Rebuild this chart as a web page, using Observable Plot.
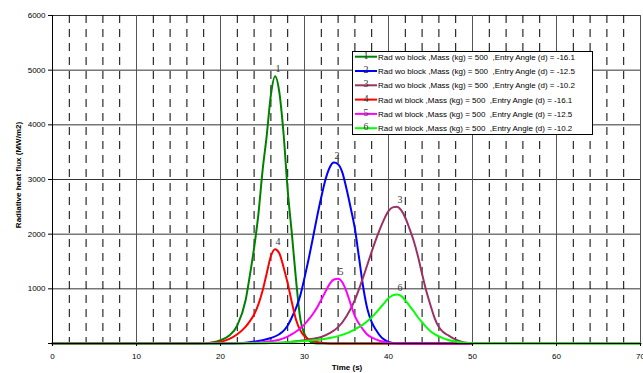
<!DOCTYPE html>
<html><head><meta charset="utf-8">
<script src="https://cdn.jsdelivr.net/npm/d3@7"></script>
<script src="https://cdn.jsdelivr.net/npm/@observablehq/plot@0.6"></script>
<style>body{margin:0;background:#fff}svg{display:block}</style>
</head><body><div id="chart"></div>
<script>
const seriesIds = ["1","2","3","4","5","6"];
const seriesNames = [
  "Rad wo block ,Mass (kg) = 500  ,Entry Angle (d) = -16.1",
  "Rad wo block ,Mass (kg) = 500  ,Entry Angle (d) = -12.5",
  "Rad wo block ,Mass (kg) = 500  ,Entry Angle (d) = -10.2",
  "Rad wi block ,Mass (kg) = 500  ,Entry Angle (d) = -16.1",
  "Rad wi block ,Mass (kg) = 500  ,Entry Angle (d) = -12.5",
  "Rad wi block ,Mass (kg) = 500  ,Entry Angle (d) = -10.2"
];
const seriesColors = ["#008000","#0000FF","#993366","#FF0000","#FF00FF","#00FF00"];

const t1 = [0,17,18,19,20,21,22,23,23.5,24,24.5,25,25.5,26,26.5,27,27.5,28,28.5,29,29.5,30,30.5,31,32,50];
const v1 = [0,0,5,20,60,140,330,800,1250,1750,2350,3150,3800,4550,4890,4600,3850,2800,2000,1150,450,170,60,10,0,0];

const t2 = [0,21,22,23,24,25,26,27,27.5,28,28.5,29,29.5,30,30.5,31,31.5,32,32.5,33,33.5,34,34.5,35,35.5,36,36.5,37,37.5,38,38.5,39,39.5,40,41,50];
const v2 = [0,0,5,15,35,60,100,170,230,330,480,650,880,1200,1550,1930,2320,2680,3000,3220,3310,3280,3130,2830,2480,2100,1560,1020,620,390,250,140,70,30,5,0];

const t3 = [0,24,26,28,29,30,31,32,33,34,35,36,36.5,37,37.5,38,38.5,39,39.5,40,40.5,41,41.5,42,42.5,43,43.5,44,44.5,45,45.5,46,46.5,47,48,49,50,70];
const v3 = [0,3,10,25,40,60,85,120,190,300,500,800,1000,1220,1450,1680,1900,2100,2280,2420,2490,2500,2440,2300,2100,1880,1600,1270,960,700,460,300,210,160,70,20,5,0];

const t4 = [0,17,18,19,20,21,22,23,23.5,24,24.5,25,25.5,26,26.5,27,27.5,28,28.5,29,29.5,30,31,32,33,50];
const v4 = [0,0,5,12,30,80,170,310,410,530,710,960,1280,1600,1725,1650,1400,1100,750,430,240,130,45,15,0,0];

const t5 = [0,22,23,24,25,26,27,28,28.5,29,29.5,30,30.5,31,31.5,32,32.5,33,33.5,34,34.5,35,35.5,36,36.5,37,37.5,38,38.5,39,40,41,50];
const v5 = [0,3,8,15,25,40,70,125,170,220,280,350,440,540,660,800,950,1090,1170,1185,1120,950,720,500,360,250,160,110,75,45,15,5,0];

const t6 = [0,20,24,26,28,30,31,32,33,34,35,36,37,37.5,38,38.5,39,39.5,40,40.5,41,41.5,42,42.5,43,43.5,44,44.5,45,45.5,46,47,48,49,50,70];
const v6 = [0,0,5,12,25,45,60,75,100,135,185,260,350,410,480,560,650,740,830,880,895,870,790,690,590,480,390,300,225,170,130,70,35,12,3,0];

const xTicks = [0,10,20,30,40,50,60,70];
const xMinor = [2,4,6,8,12,14,16,18,22,24,26,28,32,34,36,38,42,44,46,48,52,54,56,58,62,64,66,68];
const yTicks = [0,1000,2000,3000,4000,5000,6000];
const xTitle = "Time (s)";
const yTitle = "Radiative heat flux (MW/m2)";

const ts = [t1,t2,t3,t4,t5,t6];
const vs = [v1,v2,v3,v4,v5,v6];
const series = ts.map((t,i) => t.map((x,j) => ({t:x, v:vs[i][j], s:i})));
const peaks = series.map((rows,i) => {
  const p = d3.greatest(rows, d => d.v);
  return {t:p.t, v:p.v, label:seriesIds[i]};
});

const plot = Plot.plot({
  width: 643, height: 373,
  marginLeft: 52, marginRight: 3, marginTop: 15, marginBottom: 30,
  x: {domain:[0,70]},
  y: {domain:[0,6000]},
  style: {fontFamily: "'Liberation Sans', Arial, sans-serif", fontSize: "8px", background: "#fff"},
  marks: [
    Plot.ruleY(yTicks.slice(1), {stroke:"#333", strokeWidth:1}),
    Plot.ruleX(xMinor, {y1:6000, y2:0, stroke:"#000", strokeWidth:1, strokeDasharray:"8,6"}),
    Plot.ruleX(xTicks.slice(1), {stroke:"#555", strokeWidth:1}),
    ...series.map((rows,i) => Plot.line(rows, {x:"t", y:"v", stroke:seriesColors[i], strokeWidth:2, curve:"monotone-x"})),
    Plot.text(peaks, {x:"t", y:"v", text:"label", dx:3, dy:-7, fontFamily:"'Liberation Serif', 'Times New Roman', serif", fontSize:10, fill:"#333"}),
    Plot.ruleX([0], {stroke:"#000"}),
    Plot.ruleY([0], {stroke:"#000"}),
    Plot.axisY({ticks:yTicks, tickSize:4, tickPadding:3, tickFormat:d => d === 0 ? "" : String(d), label:null, fill:"#000"}),
    Plot.axisX({ticks:xTicks, tickSize:3, tickPadding:7, label:null, fill:"#000"})
  ]
});

const svg = d3.select(plot);
svg.append("text").attr("x", 347).attr("y", 370).attr("text-anchor","middle")
  .attr("font-family","'Liberation Sans', Arial, sans-serif").attr("font-size","8px").attr("font-weight","bold").text(xTitle);
svg.append("text").attr("transform","translate(21,175) rotate(-90)").attr("text-anchor","middle")
  .attr("font-family","'Liberation Sans', Arial, sans-serif").attr("font-size","8px").attr("font-weight","bold").text(yTitle);

// legend
const lg = svg.append("g");
const lx = 352, ly = 51, lw = 240, lh = 83, rowH = 14.3, row0 = 56.7;
lg.append("rect").attr("x",lx+0.5).attr("y",ly+0.5).attr("width",lw).attr("height",lh)
  .attr("fill","#fff").attr("stroke","#000").attr("stroke-width",1);
seriesNames.forEach((name,i) => {
  const cy = row0 + i*rowH;
  lg.append("line").attr("x1",355).attr("x2",377).attr("y1",cy).attr("y2",cy)
    .attr("stroke",seriesColors[i]).attr("stroke-width",2);
  lg.append("text").attr("x",366).attr("y",cy+2).attr("text-anchor","middle")
    .attr("font-family","'Liberation Serif', 'Times New Roman', serif").attr("font-size","10px").attr("fill","#333")
    .text(seriesIds[i]);
  lg.append("text").attr("x",378).attr("y",cy+3).attr("text-anchor","start").attr("font-family","'Liberation Sans', Arial, sans-serif")
    .attr("font-size","8px").attr("fill","#000").style("white-space","pre").text(name);
});

document.getElementById("chart").appendChild(plot);
</script>
</body></html>
